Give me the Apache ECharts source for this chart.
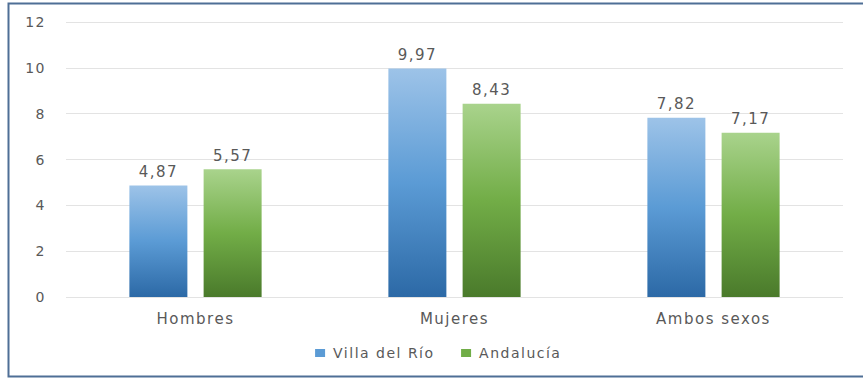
<!DOCTYPE html>
<html>
<head>
<meta charset="utf-8">
<script src="https://cdn.jsdelivr.net/npm/echarts@6/dist/echarts.min.js"></script>
<style>
  html, body { margin: 0; padding: 0; background: #fff; }
  #chart { width: 863px; height: 379px; }
  /* wide, airy lettering for all chart text */
  #chart svg text { letter-spacing: 1.5px; }
</style>
</head>
<body>
<div id="chart"></div>
<script>
const categories = ['Hombres', 'Mujeres', 'Ambos sexos'];
const villaDelRio = [4.87, 9.97, 7.82];
const andalucia = [5.57, 8.43, 7.17];
const seriesNames = ['Villa del Río', 'Andalucía'];

const fmt = v => v.toFixed(2).replace('.', ',');
const FONT = 'DejaVu Sans';
const TEXT = '#595959';

const blueGrad = new echarts.graphic.LinearGradient(0, 0, 0, 1, [
  { offset: 0, color: '#9dc3e8' },
  { offset: 0.5, color: '#5b9bd5' },
  { offset: 1, color: '#2c69a6' }
]);
const greenGrad = new echarts.graphic.LinearGradient(0, 0, 0, 1, [
  { offset: 0, color: '#a9d38c' },
  { offset: 0.5, color: '#72ad47' },
  { offset: 1, color: '#4a7a2b' }
]);

const valueLabel = {
  show: true, position: 'top', distance: 6,
  color: TEXT, fontSize: 15, fontFamily: FONT,
  formatter: p => fmt(p.value)
};

const chart = echarts.init(document.getElementById('chart'), null, { renderer: 'svg' });
chart.setOption({
  animation: false,
  textStyle: { fontFamily: FONT },
  graphic: [{
    type: 'rect',
    shape: { x: 8.5, y: 3.5, width: 870, height: 373 },
    style: { fill: 'none', stroke: '#4f6f96', lineWidth: 2 },
    silent: true
  }],
  grid: { left: 66, right: 20, top: 22, bottom: 82 },
  legend: {
    bottom: 14,
    left: 'center',
    itemWidth: 10,
    itemHeight: 8,
    itemGap: 46,
    icon: 'rect',
    textStyle: { color: TEXT, fontSize: 14, fontFamily: FONT, padding: [0, 0, 0, 3] },
    data: [
      { name: seriesNames[0], itemStyle: { color: '#5b9bd5' } },
      { name: seriesNames[1], itemStyle: { color: '#70ad47' } }
    ]
  },
  xAxis: {
    type: 'category',
    data: categories,
    axisLine: { show: false },
    axisTick: { show: false },
    axisLabel: { color: TEXT, fontSize: 15, fontFamily: FONT, margin: 14 }
  },
  yAxis: {
    type: 'value',
    min: 0,
    max: 12,
    interval: 2,
    axisLine: { show: false },
    axisTick: { show: false },
    axisLabel: { color: TEXT, fontSize: 14, fontFamily: FONT, margin: 20 },
    splitLine: { lineStyle: { color: '#e3e3e3', width: 1 } }
  },
  series: [
    {
      name: seriesNames[0],
      type: 'bar',
      data: villaDelRio,
      barWidth: 58,
      barGap: '28%',
      itemStyle: { color: blueGrad },
      label: valueLabel
    },
    {
      name: seriesNames[1],
      type: 'bar',
      data: andalucia,
      barWidth: 58,
      itemStyle: { color: greenGrad },
      label: valueLabel
    }
  ]
});
</script>
</body>
</html>
